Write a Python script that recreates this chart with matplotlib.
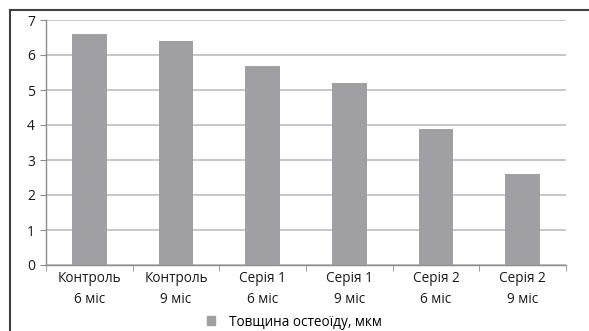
import matplotlib.pyplot as plt
from matplotlib.lines import Line2D
from matplotlib.patches import Patch

plt.rcParams['font.family'] = ['Open Sans', 'DejaVu Sans']

groups = ['Контроль\n6 міс', 'Контроль\n9 міс', 'Серія 1\n6 міс',
          'Серія 1\n9 міс', 'Серія 2\n6 міс', 'Серія 2\n9 міс']
thickness = [6.6, 6.4, 5.7, 5.2, 3.9, 2.6]
series_name = 'Товщина остеоїду, мкм'

bar_color = '#a0a0a4'
grid_color = '#bdbdbd'

W, H = 589, 331
fig = plt.figure(figsize=(W / 100, H / 100), dpi=100)
# plot area in pixel coords: x 46..566, y 20..265
ax = fig.add_axes([46 / W, 1 - 265 / H, (566 - 46) / W, (265 - 20) / H])

x = list(range(len(groups)))
ax.bar(x, thickness, width=0.4, color=bar_color, zorder=3)

ax.set_xlim(-0.5, len(groups) - 0.5)
ax.set_ylim(0, 7)
ax.set_yticks(range(0, 8))
ax.yaxis.grid(True, color=grid_color, linewidth=1.2, zorder=0)

for s in ['top', 'right']:
    ax.spines[s].set_visible(False)
for s in ['left', 'bottom']:
    ax.spines[s].set_color('#8c8c8c')
    ax.spines[s].set_linewidth(1.0)

ax.tick_params(axis='y', length=4, color='#8c8c8c', labelsize=10, pad=4, labelcolor='#1a1a1a')
ax.set_xticks(x)
ax.set_xticklabels(groups, fontsize=9.8, color='#1a1a1a', linespacing=1.6)
ax.tick_params(axis='x', length=0, pad=4)
# category separators below the x axis
ax.set_xticks([i - 0.5 for i in range(len(groups) + 1)], minor=True)
ax.tick_params(axis='x', which='minor', length=4, color='#8c8c8c')

leg = fig.legend(handles=[Patch(color=bar_color, label=series_name)],
                 loc='center', bbox_to_anchor=(0.5, 1 - 322 / H), frameon=False,
                 fontsize=9.8, handlelength=0.6, handleheight=0.6, handletextpad=1.0)

# outer frame (left and top edges)
fig.add_artist(Line2D([10 / W, 10 / W], [0, 1 - 10 / H], transform=fig.transFigure,
                      color='#404040', linewidth=1.5))
fig.add_artist(Line2D([10 / W, 1], [1 - 10 / H, 1 - 10 / H], transform=fig.transFigure,
                      color='#404040', linewidth=1.5))

fig.savefig('out.png', dpi=100)
